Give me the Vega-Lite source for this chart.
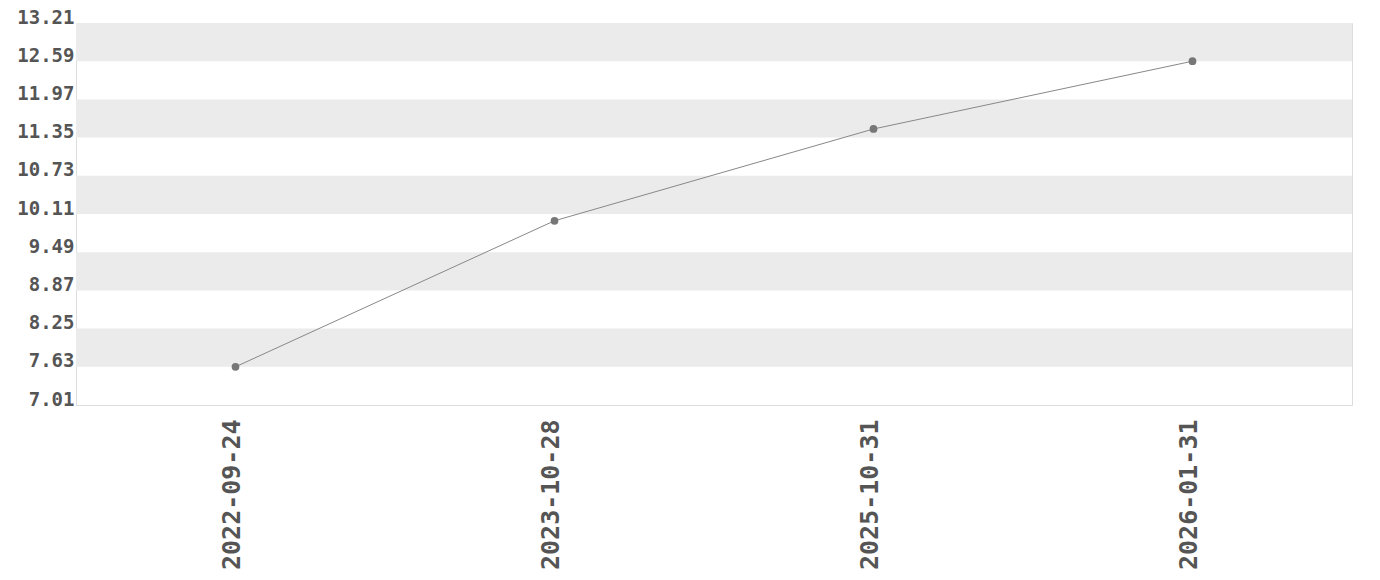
{
  "$schema": "https://vega.github.io/schema/vega-lite/v6.json",
  "width": 1276,
  "height": 382,
  "autosize": "none",
  "padding": {"left": 76, "top": 23, "right": 28, "bottom": 175},
  "background": "white",
  "config": {
    "view": {"stroke": "#dddddd", "strokeWidth": 1},
    "font": "DejaVu Sans Mono",
    "axis": {"labelOverlap": false}
  },
  "layer": [
    {
      "data": {"values": [
        {"lo": 12.59, "hi": 13.21},
        {"lo": 11.35, "hi": 11.97},
        {"lo": 10.11, "hi": 10.73},
        {"lo": 8.87, "hi": 9.49},
        {"lo": 7.63, "hi": 8.25}
      ]},
      "mark": {"type": "rect", "color": "#ebebeb"},
      "encoding": {
        "y": {"field": "lo", "type": "quantitative", "scale": {"domain": [7.01, 13.21], "nice": false, "zero": false},
          "axis": {
            "title": null, "values": [7.01, 7.63, 8.25, 8.87, 9.49, 10.11, 10.73, 11.35, 11.97, 12.59, 13.21],
            "format": ".2f", "labelFontSize": 19, "labelFontWeight": "bold", "labelColor": "#555555",
            "ticks": false, "domain": false, "grid": false, "labelPadding": 2, "labelFont": "DejaVu Sans Mono",
            "labelOverlap": false, "labelBaseline": "alphabetic", "labelBound": false, "labelFlush": false
          }},
        "y2": {"field": "hi"}
      }
    },
    {
      "data": {"values": [
        {"date": "2022-09-24", "value": 7.63},
        {"date": "2023-10-28", "value": 10.0},
        {"date": "2025-10-31", "value": 11.49},
        {"date": "2026-01-31", "value": 12.59}
      ]},
      "layer": [
        {
          "mark": {"type": "line", "color": "#888888", "strokeWidth": 1},
          "encoding": {}
        },
        {
          "mark": {"type": "point", "filled": true, "color": "#777777", "size": 60, "opacity": 1},
          "encoding": {}
        }
      ],
      "encoding": {
        "x": {
          "field": "date", "type": "ordinal",
          "scale": {"type": "point", "padding": 0.5},
          "axis": {
            "title": null, "labelAngle": -90, "labelFontSize": 25, "labelFontWeight": "bold",
            "labelColor": "#555555", "ticks": false, "domain": false, "grid": false,
            "labelPadding": 14, "labelOffset": -4, "labelFont": "DejaVu Sans Mono", "labelOverlap": false
          }
        },
        "y": {
          "field": "value", "type": "quantitative",
          "scale": {"domain": [7.01, 13.21], "nice": false, "zero": false},
          "axis": {
            "title": null, "values": [7.01, 7.63, 8.25, 8.87, 9.49, 10.11, 10.73, 11.35, 11.97, 12.59, 13.21],
            "format": ".2f", "labelFontSize": 19, "labelFontWeight": "bold", "labelColor": "#555555",
            "ticks": false, "domain": false, "grid": false, "labelPadding": 2, "labelFont": "DejaVu Sans Mono",
            "labelOverlap": false, "labelBaseline": "alphabetic", "labelBound": false, "labelFlush": false
          }
        }
      }
    }
  ]
}
